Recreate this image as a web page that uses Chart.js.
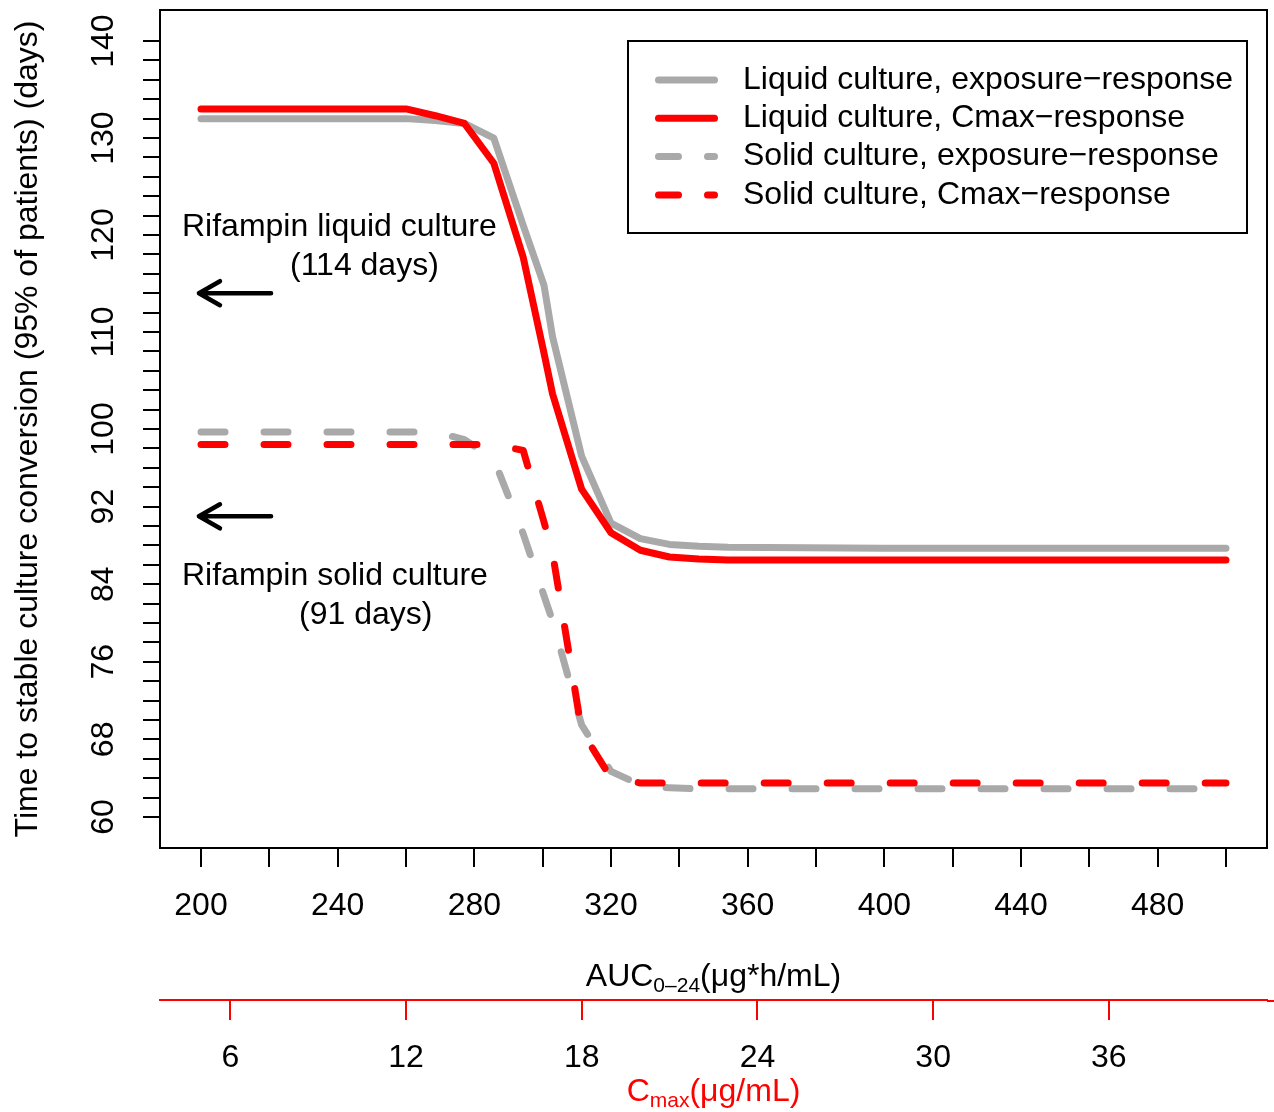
<!DOCTYPE html>
<html>
<head>
<meta charset="utf-8">
<script src="https://cdn.jsdelivr.net/npm/chart.js@4.4.0/dist/chart.umd.min.js"></script>
<style>
  html, body { margin: 0; padding: 0; background: #fff; }
  #wrap { width: 1274px; height: 1112px; }
</style>
</head>
<body>
<div id="wrap"><canvas id="grafikKonversi"></canvas></div>
<script>
// AUC grid (ug*h/mL) the curves were read at
const aucGrid = [200, 260, 268.6, 277.1, 285.7, 294.3, 300.4, 302.9, 311.4, 320, 328.6, 337.1, 345.7, 354.3, 400, 500];
// time to stable culture conversion (days)
const liquidExposure = [132.0, 132.0, 131.8, 131.5, 130.0, 121.0, 114.8, 109.5, 97.2, 90.3, 88.7, 88.1, 87.9, 87.8, 87.7, 87.7];
const liquidCmax = [133.0, 133.0, 132.3, 131.5, 127.4, 117.7, 107.8, 103.6, 93.8, 89.3, 87.5, 86.8, 86.6, 86.5, 86.5, 86.5];
const solidExposure = [99.7, 99.7, 99.7, 98.9, 96.9, 89.2, 82.8, 80.2, 69.5, 64.7, 63.3, 63.0, 62.9, 62.9, 62.9, 62.9];
const solidCmax = [98.4, 98.4, 98.4, 98.4, 98.4, 97.8, 90.4, 87.2, 68.9, 64.0, 63.5, 63.5, 63.5, 63.5, 63.5, 63.5];

const seriesNames = [
    'Liquid culture, exposure\u2212response',
    'Liquid culture, Cmax\u2212response',
    'Solid culture, exposure\u2212response',
    'Solid culture, Cmax\u2212response'
];

const aucTicks = [200, 220, 240, 260, 280, 300, 320, 340, 360, 380, 400, 420, 440, 460, 480, 500];
const aucLabels = [200, 240, 280, 320, 360, 400, 440, 480];
const cmaxTicks = [6, 12, 18, 24, 30, 36];
const dayTicks = [60, 62, 64, 66, 68, 70, 72, 74, 76, 78, 80, 82, 84, 86, 88, 90, 92, 94, 96, 98, 100,
    102, 104, 106, 108, 110, 112, 114, 116, 118, 120, 122, 124, 126, 128, 130, 132, 134, 136, 138, 140];
const dayLabels = [60, 68, 76, 84, 92, 100, 110, 120, 130, 140];

// rifampin reference lines
const refDays = [114, 91];
const refText = [['Rifampin liquid culture', '(114 days)'], ['Rifampin solid culture', '(91 days)']];

const FONT = '"Liberation Sans", Arial, sans-serif';
const GRAY = '#A9A9A9';
const RED = '#FF0000';

function toPoints(values) {
    return aucGrid.map((x, i) => ({ x: x, y: values[i] }));
}

// frame, legend, annotations and axis titles with subscripts
const extras = {
    id: 'extras',
    afterDraw(chart) {
        const { ctx, chartArea } = chart;
        const xs = chart.scales.x, ys = chart.scales.y, x2 = chart.scales.x2;
        ctx.save();

        // box
        ctx.strokeStyle = '#000';
        ctx.lineWidth = 2;
        ctx.setLineDash([]);
        ctx.strokeRect(chartArea.left, chartArea.top, chartArea.width, chartArea.height);

        // cmax axis line runs to the edge
        ctx.strokeStyle = RED;
        ctx.beginPath();
        ctx.moveTo(chartArea.right, x2.top + 1);
        ctx.lineTo(chart.width, x2.top + 1);
        ctx.stroke();

        // legend
        ctx.strokeStyle = '#000';
        const lw = 619, lh = 192;
        const lx = chartArea.right - 20 - lw, ly = chartArea.top + 31;
        ctx.strokeRect(lx, ly, lw, lh);
        chart.data.datasets.forEach((ds, i) => {
            const y = ly + 39 + i * 38.3;
            ctx.strokeStyle = ds.borderColor;
            ctx.lineWidth = ds.borderWidth;
            ctx.lineCap = 'round';
            ctx.setLineDash(ds.borderDash && ds.borderDash.length ? [20, 29] : []);
            ctx.beginPath();
            ctx.moveTo(lx + 30.5, y);
            ctx.lineTo(lx + 86.5, y);
            ctx.stroke();
            ctx.setLineDash([]);
            ctx.fillStyle = '#000';
            ctx.font = '32px ' + FONT;
            ctx.textAlign = 'left';
            ctx.textBaseline = 'middle';
            ctx.fillText(ds.label, lx + 115, y);
        });

        // arrows + notes
        refDays.forEach((d, i) => {
            const y = ys.getPixelForValue(d);
            const x0 = xs.getPixelForValue(199.4), x1 = xs.getPixelForValue(220.5);
            ctx.strokeStyle = '#000';
            ctx.lineWidth = 4.5;
            ctx.lineCap = 'round';
            ctx.lineJoin = 'round';
            ctx.beginPath();
            ctx.moveTo(x1, y); ctx.lineTo(x0, y);
            ctx.moveTo(x0 + 21, y - 12); ctx.lineTo(x0, y); ctx.lineTo(x0 + 21, y + 12);
            ctx.stroke();
            ctx.fillStyle = '#000';
            ctx.font = '32px ' + FONT;
            ctx.textAlign = 'left';
            ctx.textBaseline = 'middle';
            const l1 = i === 0 ? y - 66 : y + 60;
            ctx.fillText(refText[i][0], chartArea.left + 22, l1);
            ctx.fillText(refText[i][1], chartArea.left + (i === 0 ? 130 : 139), l1 + 39);
        });

        // axis titles
        const cx = (chartArea.left + chartArea.right) / 2;
        drawSub(ctx, cx, chartArea.bottom + 138, [['AUC', false], ['0\u201324', true], ['(\u03bcg*h/mL)', false]], '#000');
        drawSub(ctx, cx, chartArea.bottom + 253, [['C', false], ['max', true], ['(\u03bcg/mL)', false]], RED);
        ctx.restore();
    }
};

function drawSub(ctx, cx, base, parts, color) {
    const big = '32px ' + FONT, small = '21px ' + FONT;
    let total = 0;
    parts.forEach(p => { ctx.font = p[1] ? small : big; total += ctx.measureText(p[0]).width; });
    let x = cx - total / 2;
    ctx.fillStyle = color;
    ctx.textAlign = 'left';
    ctx.textBaseline = 'alphabetic';
    parts.forEach(p => {
        ctx.font = p[1] ? small : big;
        ctx.fillText(p[0], x, base + (p[1] ? 6 : 0));
        x += ctx.measureText(p[0]).width;
    });
}

const tickFont = { family: FONT, size: 32 };

const ctx = document.getElementById('grafikKonversi').getContext('2d');
const chart = new Chart(ctx, {
    type: 'line',
    data: {
        datasets: [
            { label: seriesNames[0], data: toPoints(liquidExposure), borderColor: GRAY, borderWidth: 7, borderDash: [], order: 4 },
            { label: seriesNames[1], data: toPoints(liquidCmax), borderColor: RED, borderWidth: 7, borderDash: [], order: 3 },
            { label: seriesNames[2], data: toPoints(solidExposure), borderColor: GRAY, borderWidth: 7, borderDash: [24, 39], order: 2 },
            { label: seriesNames[3], data: toPoints(solidCmax), borderColor: RED, borderWidth: 7, borderDash: [24, 39], order: 1 }
        ]
    },
    options: {
        responsive: true,
        maintainAspectRatio: false,
        animation: false,
        layout: { padding: { top: 10, right: 7, left: 0, bottom: 0 } },
        elements: {
            point: { radius: 0 },
            line: { tension: 0, borderCapStyle: 'round', borderJoinStyle: 'round', fill: false }
        },
        plugins: {
            legend: { display: false },
            tooltip: { enabled: false }
        },
        scales: {
            x: {
                type: 'linear',
                position: 'bottom',
                weight: 0,
                min: 188,
                max: 512,
                afterBuildTicks: s => { s.ticks = aucTicks.map(v => ({ value: v })); },
                afterFit: s => { s.height = 152; s.paddingLeft = 0; s.paddingRight = 0; },
                ticks: {
                    autoSkip: false, minRotation: 0, maxRotation: 0, padding: 20, color: '#000', font: tickFont,
                    callback: v => aucLabels.includes(v) ? String(v) : ''
                },
                grid: { drawOnChartArea: false, drawTicks: true, tickLength: 19, color: '#000', lineWidth: 2 },
                border: { display: true, color: '#000', width: 2 }
            },
            x2: {
                type: 'linear',
                position: 'bottom',
                weight: 1,
                min: 3.6,
                max: 41.4,
                afterBuildTicks: s => { s.ticks = cmaxTicks.map(v => ({ value: v })); },
                afterFit: s => { s.height = 112; s.paddingLeft = 0; s.paddingRight = 0; },
                ticks: { autoSkip: false, minRotation: 0, maxRotation: 0, padding: 19, color: '#000', font: tickFont },
                grid: { drawOnChartArea: false, drawTicks: true, tickLength: 20, color: RED, lineWidth: 2 },
                border: { display: true, color: RED, width: 2 }
            },
            y: {
                type: 'linear',
                position: 'left',
                min: 56.8,
                max: 143.2,
                afterBuildTicks: s => { s.ticks = dayTicks.map(v => ({ value: v })); },
                afterFit: s => { s.width = 160; s.paddingTop = 0; s.paddingBottom = 0; },
                ticks: {
                    autoSkip: false, minRotation: 90, maxRotation: 90, crossAlign: 'center', padding: 12,
                    color: '#000', font: tickFont,
                    callback: v => dayLabels.includes(v) ? String(v) : ''
                },
                grid: { drawOnChartArea: false, drawTicks: true, tickLength: 17, color: '#000', lineWidth: 2 },
                border: { display: true, color: '#000', width: 2 },
                title: {
                    display: true,
                    text: 'Time to stable culture conversion (95% of patients) (days)',
                    color: '#000',
                    font: { family: FONT, size: 32 },
                    padding: { top: 9, bottom: 0 }
                }
            }
        }
    },
    plugins: [extras]
});
</script>
</body>
</html>
